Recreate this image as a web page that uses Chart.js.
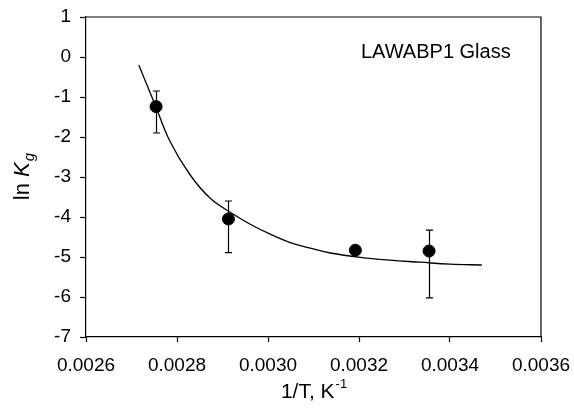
<!DOCTYPE html>
<html>
<head>
<meta charset="utf-8">
<script src="https://cdn.jsdelivr.net/npm/chart.js@4"></script>
<style>
  html, body { margin: 0; padding: 0; background: #fff; }
  #wrap { width: 574px; height: 414px; }
</style>
</head>
<body>
<div id="wrap"><canvas id="myChart" width="574" height="414"></canvas></div>
<script>
'use strict'

// measured points, 1/T (K^-1) against ln Kg
const invTemp = [0.002754, 0.002913, 0.003192, 0.003354];
const lnKg = [-1.24, -4.05, -4.83, -4.85];
const errTop = [-0.85, -3.6, null, -4.33];
const errBottom = [-1.9, -4.89, null, -6.02];

// fitted curve
const fitX = [0.002716, 0.002752, 0.002785, 0.002829, 0.002873, 0.002924, 0.002961, 0.003005,
  0.003049, 0.003093, 0.003137, 0.003203, 0.003268, 0.003334, 0.003400, 0.003470];
const fitY = [-0.2, -1.2, -2.12, -2.95, -3.53, -3.93, -4.18, -4.43,
  -4.64, -4.78, -4.90, -5.01, -5.08, -5.13, -5.18, -5.20];

const xTicks = [0.0026, 0.0028, 0.0030, 0.0032, 0.0034, 0.0036];
const yTicks = [1, 0, -1, -2, -3, -4, -5, -6, -7];

const FONT = '"Liberation Sans", Arial, sans-serif';

let measured = [];
for (let i = 0; i < invTemp.length; i++) {
  measured.push({ x: invTemp[i], y: lnKg[i] });
}
let fitLine = [];
for (let i = 0; i < fitX.length; i++) {
  fitLine.push({ x: fitX[i], y: fitY[i] });
}

// error bars, box frame and the text labels
const extras = {
  id: 'extras',
  afterDatasetsDraw(chart) {
    const ctx = chart.ctx;
    const xs = chart.scales.x;
    const ys = chart.scales.y;
    ctx.save();
    ctx.strokeStyle = '#000';
    ctx.lineWidth = 1.2;
    for (let i = 0; i < invTemp.length; i++) {
      if (errTop[i] === null) continue;
      const px = Math.round(xs.getPixelForValue(invTemp[i])) + 0.5;
      const top = ys.getPixelForValue(errTop[i]);
      const bot = ys.getPixelForValue(errBottom[i]);
      ctx.beginPath();
      ctx.moveTo(px, top);
      ctx.lineTo(px, bot);
      ctx.moveTo(px - 3.5, top);
      ctx.lineTo(px + 3.5, top);
      ctx.moveTo(px - 3.5, bot);
      ctx.lineTo(px + 3.5, bot);
      ctx.stroke();
    }
    ctx.restore();
  },
  afterDraw(chart) {
    const ctx = chart.ctx;
    const a = chart.chartArea;
    ctx.save();
    ctx.strokeStyle = '#000';
    ctx.lineWidth = 1.2;
    ctx.beginPath();
    ctx.moveTo(a.left, a.top);
    ctx.lineTo(a.right, a.top);
    ctx.lineTo(a.right, a.bottom);
    ctx.stroke();

    ctx.fillStyle = '#000';
    ctx.textBaseline = 'alphabetic';

    // legend text inside the plot
    ctx.font = '20px ' + FONT;
    ctx.textAlign = 'left';
    ctx.fillText('LAWABP1 Glass', 361, 58);

    // x axis title: 1/T, K^-1
    const main = '1/T, K';
    ctx.font = '21px ' + FONT;
    const w1 = ctx.measureText(main).width;
    ctx.font = '13px ' + FONT;
    const w2 = ctx.measureText('-1').width;
    const cx = (a.left + a.right) / 2;
    let sx = cx - (w1 + w2) / 2;
    ctx.font = '21px ' + FONT;
    ctx.fillText(main, sx, 398);
    ctx.font = '13px ' + FONT;
    ctx.fillText('-1', sx + w1 + 1, 388);

    // y axis title: ln Kg, rotated
    ctx.translate(29, (a.top + a.bottom) / 2);
    ctx.rotate(-Math.PI / 2);
    ctx.font = '22px ' + FONT;
    const ln = 'ln ';
    const lw = ctx.measureText(ln).width;
    ctx.font = 'italic 22px ' + FONT;
    const kw = ctx.measureText('K').width;
    ctx.font = 'italic 15px ' + FONT;
    const gw = ctx.measureText('g').width;
    let tx = -(lw + kw + gw) / 2;
    ctx.font = '22px ' + FONT;
    ctx.fillText(ln, tx, 0);
    ctx.font = 'italic 22px ' + FONT;
    ctx.fillText('K', tx + lw, 0);
    ctx.font = 'italic 15px ' + FONT;
    ctx.fillText('g', tx + lw + kw + 1, 5);
    ctx.restore();
  }
};

const config = {
  type: 'scatter',
  data: {
    datasets: [{
      label: 'fit',
      type: 'line',
      data: fitLine,
      borderColor: '#000',
      borderWidth: 1.3,
      pointRadius: 0,
      fill: false,
      tension: 0.4
    },
    {
      label: 'measured',
      data: measured,
      backgroundColor: '#000',
      borderColor: '#000',
      pointRadius: 6,
      pointHoverRadius: 6
    }]
  },
  options: {
    responsive: false,
    animation: false,
    events: [],
    layout: {
      padding: { left: 0, right: 33, top: 17, bottom: 0 }
    },
    plugins: {
      legend: { display: false },
      tooltip: { enabled: false }
    },
    scales: {
      x: {
        type: 'linear',
        min: xTicks[0],
        max: xTicks[xTicks.length - 1],
        afterBuildTicks: (s) => { s.ticks = xTicks.map(v => ({ value: v })); },
        afterFit: (s) => {
          s.height = 77;
          s.paddingLeft = 0;
          s.paddingRight = 0;
        },
        border: { display: true, color: '#000', width: 1.2 },
        grid: { drawOnChartArea: false, color: '#000', tickLength: 5, tickWidth: 1.2 },
        ticks: {
          color: '#000',
          font: { family: FONT, size: 19 },
          padding: 12,
          maxRotation: 0,
          callback: (v) => Number(v).toFixed(4)
        }
      },
      y: {
        type: 'linear',
        min: -7,
        max: 1,
        afterBuildTicks: (s) => { s.ticks = yTicks.map(v => ({ value: v })); },
        afterFit: (s) => {
          s.width = 86;
          s.paddingTop = 0;
          s.paddingBottom = 0;
        },
        border: { display: true, color: '#000', width: 1.2 },
        grid: { drawOnChartArea: false, color: '#000', tickLength: 6, tickWidth: 1.2 },
        ticks: {
          color: '#000',
          font: { family: FONT, size: 19 },
          padding: 9,
          callback: (v) => String(v)
        }
      }
    }
  },
  plugins: [extras]
};

let canvasChart = document.getElementById('myChart');
const myChart = new Chart(canvasChart, config);
</script>
</body>
</html>
